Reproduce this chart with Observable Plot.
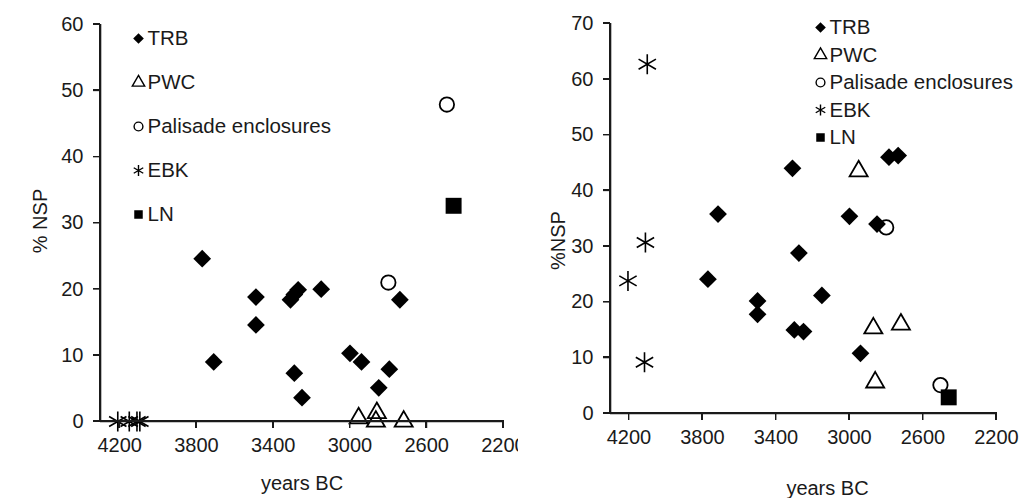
<!DOCTYPE html>
<html>
<head>
<meta charset="utf-8">
<script src="https://cdn.jsdelivr.net/npm/d3@7"></script>
<script src="https://cdn.jsdelivr.net/npm/@observablehq/plot@0.6"></script>
<style>
  html, body { margin: 0; padding: 0; background: #fff; }
  #wrap { display: flex; flex-direction: row; width: 1036px; height: 498px; }
  .pan { position: relative; width: 518px; height: 498px; overflow: hidden; }
  .pan svg { display: block; font-family: 'Liberation Sans', Arial, sans-serif; font-size: 20px; color: #1a1a1a; }
  .ax { position: absolute; background: #1a1a1a; }
</style>
</head>
<body>
<div id="wrap"></div>
<script>
// ---- shared tick labels / categories ----
const xTicks = [4200, 3800, 3400, 3000, 2600, 2200];
const leftYTicks = [0, 10, 20, 30, 40, 50, 60];
const rightYTicks = [0, 10, 20, 30, 40, 50, 60, 70];
const seriesNames = ["TRB", "PWC", "Palisade enclosures", "EBK", "LN"];
const xLabel = "years BC";
const leftYLabel = "% NSP";
const rightYLabel = "%NSP";

// ---- left panel values ----
const leftTRBYears = [3770, 3710, 3490, 3490, 3310, 3290, 3270, 3290, 3250, 3150, 3000, 2940, 2850, 2795, 2740];
const leftTRBNsp   = [24.6, 9.0, 18.8, 14.6, 18.4, 19.2, 19.9, 7.3, 3.6, 20.0, 10.3, 9.0, 5.1, 7.9, 18.4];
const leftPWCYears = [2955, 2865, 2860, 2720];
const leftPWCNsp   = [0.5, 0, 1.3, 0];
const leftPalYears = [2495, 2800];
const leftPalNsp   = [47.9, 21.0];
const leftEBKYears = [4210, 4150, 4110, 4095];
const leftEBKNsp   = [0, 0, 0, 0];
const leftLNYears  = [2460];
const leftLNNsp    = [32.6];

// ---- right panel values ----
const rightTRBYears = [3310, 3715, 3770, 3500, 3500, 3275, 3300, 3250, 3150, 3000, 2850, 2940, 2785, 2735];
const rightTRBNsp   = [44.0, 35.8, 24.1, 20.2, 17.8, 28.8, 15.0, 14.7, 21.2, 35.4, 34.0, 10.8, 46.0, 46.3];
const rightPWCYears = [2950, 2870, 2720, 2860];
const rightPWCNsp   = [43.5, 15.3, 16.0, 5.6];
const rightPalYears = [2800, 2505];
const rightPalNsp   = [33.4, 5.1];
const rightEBKYears = [4100, 4110, 4205, 4115];
const rightEBKNsp   = [62.7, 30.7, 23.8, 9.2];
const rightLNYears  = [2460];
const rightLNNsp    = [2.9];

const INK = "black";
const TXT = "#1a1a1a";
const XMIN = 4300, XMAX = 2200;

const styles = [
  {symbol: "diamond2", r: 8, fill: INK, stroke: "none", lr: 4.8},
  {symbol: "triangle", r: 6.7, fill: "none", stroke: INK, strokeWidth: 1.8, lr: 4.6},
  {symbol: "circle", r: 7.2, fill: "none", stroke: INK, strokeWidth: 1.8, lr: 4.4},
  {symbol: "asterisk", r: 9.5, fill: "none", stroke: INK, strokeWidth: 1.6, lr: 5.2},
  {symbol: "square", r: 9, fill: INK, stroke: "none", lr: 4.8}
];

function rows(years, vals) { return years.map((x, i) => ({x, y: vals[i]})); }

function panel(cfg) {
  const marks = [];
  // axis lines (SVG)
  marks.push(Plot.ruleX([XMIN], {stroke: TXT, strokeWidth: 1.6, y1: cfg.yDomain[0], y2: cfg.yDomain[1]}));
  marks.push(Plot.ruleY([cfg.yDomain[0]], {stroke: TXT, strokeWidth: 1.6, x1: XMIN, x2: XMAX}));
  // series
  cfg.series.forEach((s, i) => {
    const st = styles[i];
    marks.push(Plot.dot(rows(s[0], s[1]), {x: "x", y: "y", symbol: st.symbol, r: st.r, fill: st.fill, stroke: st.stroke, strokeWidth: st.strokeWidth || 1}));
  });
  // legend
  seriesNames.forEach((name, i) => {
    const st = styles[i];
    marks.push(Plot.dot([name], {frameAnchor: "top-left", dx: cfg.legX, dy: cfg.legY + i * cfg.legStep, symbol: st.symbol, r: st.lr, fill: st.fill, stroke: st.stroke, strokeWidth: st.strokeWidth ? 1.4 : 1}));
    marks.push(Plot.text([name], {text: d => d, frameAnchor: "top-left", lineAnchor: "middle", dx: cfg.legX + 9, dy: cfg.legY + i * cfg.legStep, textAnchor: "start", fontSize: 20.5, fill: TXT}));
  });
  // axis titles
  marks.push(Plot.text([cfg.yLabel], {text: d => d, frameAnchor: "left", textAnchor: "middle", lineAnchor: "middle", dx: cfg.yLabDx, dy: cfg.yLabDy, rotate: -90, fontSize: 20, fill: TXT}));
  marks.push(Plot.text([xLabel], {text: d => d, frameAnchor: "bottom", textAnchor: "middle", lineAnchor: "middle", dx: cfg.xLabDx, dy: cfg.xLabDy, fontSize: 20, fill: TXT}));

  const plot = Plot.plot({
    width: 518,
    height: 498,
    marginLeft: cfg.ml, marginRight: cfg.mr, marginTop: cfg.mt, marginBottom: cfg.mb,
    x: {domain: [XMIN, XMAX], ticks: xTicks, tickSize: 7, tickPadding: 9, tickFormat: d => String(d), label: null},
    y: {domain: cfg.yDomain, ticks: cfg.yTicks, tickSize: 7, tickPadding: 10, label: null},
    marks
  });

  // container + axis lines/ticks placed through the plot's own scales
  const box = document.createElement("div");
  box.className = "pan";
  box.append(plot);
  const xs = plot.scale("x"), ys = plot.scale("y");
  const W = 1.6, T = 7;
  const px0 = xs.apply(XMIN), px1 = xs.apply(XMAX);
  const py0 = ys.apply(cfg.yDomain[0]), py1 = ys.apply(cfg.yDomain[1]);
  const seg = (l, t, w, h) => {
    const d = document.createElement("div");
    d.className = "ax";
    d.style.left = l + "px"; d.style.top = t + "px";
    d.style.width = w + "px"; d.style.height = h + "px";
    box.append(d);
  };
  seg(px0 - W / 2, py1, W, py0 - py1 + W / 2);
  seg(px0 - W / 2, py0 - W / 2, px1 - px0 + W, W);
  xTicks.forEach(t => seg(xs.apply(t) - W / 2, py0, W, T));
  cfg.yTicks.forEach(t => seg(px0 - T, ys.apply(t) - W / 2, T, W));
  return box;
}

const left = panel({
  ml: 100, mr: 15, mt: 24, mb: 77,
  yDomain: [0, 60], yTicks: leftYTicks, yLabel: leftYLabel,
  yLabDx: -60, yLabDy: -2, xLabDx: 0, xLabDy: 62,
  legX: 38, legY: 14, legStep: 44,
  series: [[leftTRBYears, leftTRBNsp], [leftPWCYears, leftPWCNsp], [leftPalYears, leftPalNsp], [leftEBKYears, leftEBKNsp], [leftLNYears, leftLNNsp]]
});
const right = panel({
  ml: 92, mr: 40, mt: 23, mb: 85,
  yDomain: [0, 70], yTicks: rightYTicks, yLabel: rightYLabel,
  yLabDx: -52, yLabDy: 22, xLabDx: 24, xLabDy: 75,
  legX: 210, legY: 4, legStep: 27.5,
  series: [[rightTRBYears, rightTRBNsp], [rightPWCYears, rightPWCNsp], [rightPalYears, rightPalNsp], [rightEBKYears, rightEBKNsp], [rightLNYears, rightLNNsp]]
});
document.getElementById("wrap").append(left, right);
</script>
</body>
</html>
